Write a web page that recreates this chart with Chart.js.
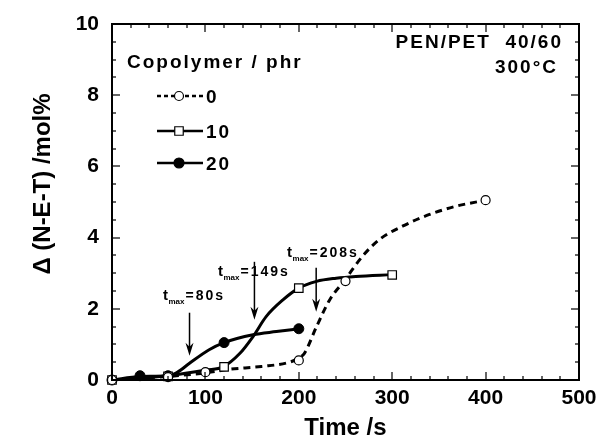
<!DOCTYPE html>
<html>
<head>
<meta charset="utf-8">
<script src="https://cdn.jsdelivr.net/npm/chart.js@4"></script>
</head>
<body style="margin:0">
<canvas id="chart" width="597" height="439"></canvas>
<script>
// measured points
const time0 = [0, 60, 100, 200, 250, 400];
const val0 = [0, 0.08, 0.22, 0.55, 2.78, 5.05];
const time10 = [0, 60, 120, 200, 300];
const val10 = [0, 0.1, 0.37, 2.58, 2.95];
const time20 = [0, 30, 60, 120, 200];
const val20 = [0, 0.12, 0.12, 1.05, 1.44];

// fitted curves
const fit0X = [0, 30, 60, 100, 125, 160, 190, 200, 206, 219, 233, 249, 268, 286, 311, 340, 368, 400];
const fit0Y = [0, 0.05, 0.1, 0.2, 0.3, 0.38, 0.5, 0.62, 0.75, 1.5, 2.25, 2.8, 3.47, 3.94, 4.32, 4.65, 4.88, 5.05];
const fit10X = [0, 30, 60, 101, 119, 137, 151, 165, 183, 200, 219, 240, 261, 300];
const fit10Y = [0, 0.05, 0.12, 0.28, 0.37, 0.75, 1.22, 1.78, 2.25, 2.58, 2.77, 2.86, 2.91, 2.96];
const fit20X = [0, 30, 60, 69, 83, 104, 120, 151, 176, 200];
const fit20Y = [0, 0.1, 0.12, 0.2, 0.47, 0.85, 1.05, 1.27, 1.36, 1.44];

const seriesNames = ["0", "10", "20"];
const xTicks = [0, 100, 200, 300, 400, 500];
const yTicks = [0, 2, 4, 6, 8, 10];

// t_max arrows: x, arrow top, arrow tip; label anchor x, y (baseline)
const tmaxValues = ["80s", "149s", "208s"];
const arrowX = [83, 152.5, 218.6];
const arrowTop = [1.89, 3.32, 3.15];
const arrowTip = [0.68, 1.69, 1.92];
const labelX = [54.6, 113.5, 187.4];
const labelY = [2.25, 2.92, 3.46];

const FONT = "'Liberation Sans', Arial, Helvetica, sans-serif";

function pts(px, py) {
  return px.map((x, i) => ({ x: x, y: py[i] }));
}

const datasets = [
  { label: seriesNames[0], data: pts(time0, val0), showLine: false, pointStyle: "circle", clip: false,
    pointRadius: 4.5, pointBackgroundColor: "#fff", pointBorderColor: "#000", pointBorderWidth: 1.2 },
  { label: seriesNames[1], data: pts(time10, val10), showLine: false, pointStyle: "rect", clip: false,
    pointRadius: 6, pointBackgroundColor: "#fff", pointBorderColor: "#000", pointBorderWidth: 1.2 },
  { label: seriesNames[2], data: pts(time20, val20), showLine: false, pointStyle: "circle", clip: false,
    pointRadius: 5, pointBackgroundColor: "#000", pointBorderColor: "#000", pointBorderWidth: 1 },
  { label: "fit0", data: pts(fit0X, fit0Y), borderColor: "#000", borderWidth: 3, borderDash: [7, 5],
    pointRadius: 0, showLine: true, cubicInterpolationMode: "monotone" },
  { label: "fit10", data: pts(fit10X, fit10Y), borderColor: "#000", borderWidth: 3,
    pointRadius: 0, showLine: true, cubicInterpolationMode: "monotone" },
  { label: "fit20", data: pts(fit20X, fit20Y), borderColor: "#000", borderWidth: 3,
    pointRadius: 0, showLine: true, cubicInterpolationMode: "monotone" }
];

function spaced(ctx, text, x, y, align, gap) {
  // text with extra letter spacing
  let w = 0;
  for (const ch of text) w += ctx.measureText(ch).width + gap;
  w -= gap;
  let cx = align === "right" ? x - w : align === "center" ? x - w / 2 : x;
  ctx.textAlign = "left";
  for (const ch of text) {
    ctx.fillText(ch, cx, y);
    cx += ctx.measureText(ch).width + gap;
  }
}

const frame = {
  id: "frame",
  afterDraw(chart) {
    const ctx = chart.ctx;
    const sx = chart.scales.x, sy = chart.scales.y;
    const L = sx.getPixelForValue(0), R = sx.getPixelForValue(500);
    const T = sy.getPixelForValue(10), B = sy.getPixelForValue(0);
    ctx.save();
    ctx.fillStyle = "#000";
    ctx.fillRect(L - 1, T - 1, R - L + 2, 2);
    ctx.fillRect(L - 1, B - 1, R - L + 2, 2);
    ctx.fillRect(L - 1, T - 1, 2, B - T + 2);
    ctx.fillRect(R - 1, T - 1, 2, B - T + 2);
    // inward ticks
    for (let v = 0; v <= 500; v += 20) {
      const px = Math.round(sx.getPixelForValue(v));
      const len = v % 100 === 0 ? 8 : 4;
      ctx.fillRect(px - 0.6, B - len, 1.2, len);
      ctx.fillRect(px - 0.6, T, 1.2, len);
    }
    for (let v = 0; v <= 10; v += 0.5) {
      const py = Math.round(sy.getPixelForValue(v));
      const len = v % 2 === 0 ? 8 : 4;
      ctx.fillRect(L, py - 0.6, len, 1.2);
      ctx.fillRect(R - len, py - 0.6, len, 1.2);
    }
    ctx.restore();
  }
};

const texts = {
  id: "texts",
  afterDraw(chart) {
    const ctx = chart.ctx;
    const sx = chart.scales.x, sy = chart.scales.y;
    ctx.save();
    ctx.fillStyle = "#000";
    ctx.strokeStyle = "#000";

    // axis titles
    ctx.font = "bold 24px " + FONT;
    ctx.textAlign = "center";
    ctx.textBaseline = "alphabetic";
    ctx.fillText("Time /s", (sx.left + sx.right) / 2, 435);
    ctx.save();
    ctx.translate(50, 184);
    ctx.rotate(-Math.PI / 2);
    ctx.fillText("\u0394 (N-E-T) /mol%", 0, 0);
    ctx.restore();

    // header texts
    ctx.font = "bold 19px " + FONT;
    spaced(ctx, "PEN/PET  40/60", 561, 48, "right", 2);
    spaced(ctx, "300\u00B0C", 556, 73, "right", 2);

    // legend
    spaced(ctx, "Copolymer / phr", 127, 68, "left", 2);
    const legY = [96, 131, 163];
    for (let i = 0; i < 3; i++) {
      const ds = chart.data.datasets[i];
      ctx.lineWidth = 2.5;
      ctx.setLineDash(i === 0 ? [4, 3] : []);
      ctx.beginPath();
      ctx.moveTo(157, legY[i]); ctx.lineTo(203, legY[i]);
      ctx.stroke();
      ctx.setLineDash([]);
      ctx.lineWidth = 1.2;
      ctx.fillStyle = ds.pointBackgroundColor;
      const cx = 179;
      ctx.beginPath();
      if (ds.pointStyle === "rect") {
        const h = ds.pointRadius * Math.SQRT1_2;
        ctx.rect(cx - h, legY[i] - h, 2 * h, 2 * h);
      } else {
        ctx.arc(cx, legY[i], ds.pointRadius, 0, Math.PI * 2);
      }
      ctx.fill(); ctx.stroke();
      ctx.fillStyle = "#000";
      spaced(ctx, ds.label, 206, legY[i] + 7, "left", 2);
    }

    // t_max annotations
    for (let i = 0; i < arrowX.length; i++) {
      const px = sx.getPixelForValue(arrowX[i]);
      const y1 = sy.getPixelForValue(arrowTop[i]);
      const y2 = sy.getPixelForValue(arrowTip[i]);
      ctx.lineWidth = 1.5;
      ctx.beginPath();
      ctx.moveTo(px, y1); ctx.lineTo(px, y2 - 6);
      ctx.stroke();
      ctx.beginPath();
      ctx.moveTo(px, y2);
      ctx.lineTo(px - 4, y2 - 13);
      ctx.lineTo(px, y2 - 9);
      ctx.lineTo(px + 4, y2 - 13);
      ctx.closePath();
      ctx.fill();

      let lx = sx.getPixelForValue(labelX[i]);
      const ly = sy.getPixelForValue(labelY[i]);
      ctx.textAlign = "left";
      ctx.font = "bold 15px " + FONT;
      ctx.fillText("t", lx, ly);
      lx += ctx.measureText("t").width + 0.5;
      ctx.font = "bold 8px " + FONT;
      ctx.fillText("max", lx, ly + 4);
      lx += ctx.measureText("max").width + 1;
      ctx.font = "bold 14px " + FONT;
      spaced(ctx, "=" + tmaxValues[i], lx, ly, "left", 2);
    }
    ctx.restore();
  }
};

new Chart(document.getElementById("chart"), {
  type: "scatter",
  data: { datasets: datasets },
  options: {
    responsive: false,
    animation: false,
    layout: { padding: { top: 24, right: 18 } },
    plugins: { legend: { display: false }, tooltip: { enabled: false } },
    scales: {
      x: {
        min: 0, max: 500,
        afterBuildTicks: (s) => { s.ticks = xTicks.map(v => ({ value: v })); },
        afterFit: (s) => { s.height = 59; s.paddingRight = 0; s.paddingLeft = 0; },
        grid: { display: false, drawTicks: false },
        border: { display: true, color: "#000", width: 2 },
        ticks: { color: "#000", padding: 6, font: { family: FONT, size: 21, weight: "bold" } }
      },
      y: {
        min: 0, max: 10,
        afterBuildTicks: (s) => { s.ticks = yTicks.map(v => ({ value: v })); },
        afterFit: (s) => { s.width = 112; s.paddingTop = 0; s.paddingBottom = 0; },
        grid: { display: false, drawTicks: false },
        border: { display: true, color: "#000", width: 2 },
        ticks: { color: "#000", padding: 13, font: { family: FONT, size: 21, weight: "bold" } }
      }
    }
  },
  plugins: [frame, texts]
});
</script>
</body>
</html>
